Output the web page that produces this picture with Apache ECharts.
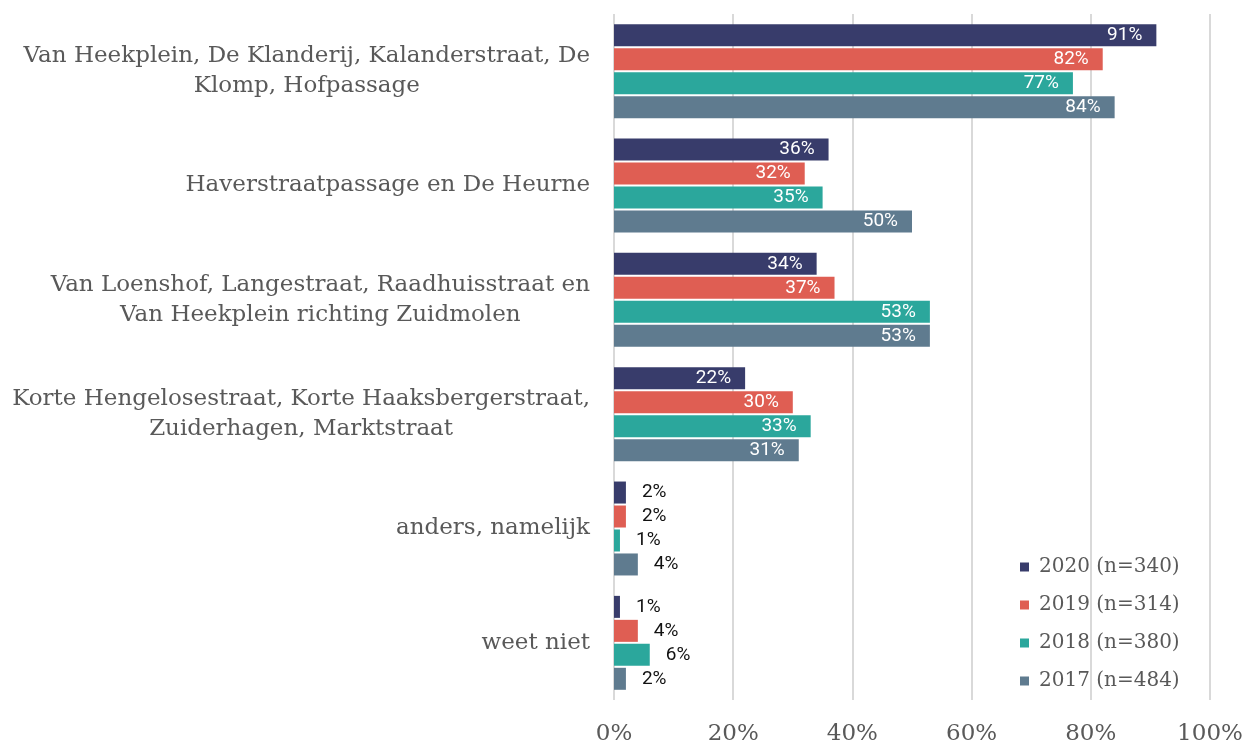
<!DOCTYPE html>
<html>
<head>
<meta charset="utf-8">
<title>Winkelgebieden</title>
<script src="https://cdn.jsdelivr.net/npm/echarts@6/dist/echarts.min.js"></script>
<style>
  html, body { margin: 0; padding: 0; background: #fff; }
  #chart { width: 1244px; height: 742px; }
</style>
</head>
<body>
<div id="chart"></div>
<script>
  // categorieën (van boven naar beneden)
  var categories = [
    'Van Heekplein, De Klanderij, Kalanderstraat, De\nKlomp, Hofpassage',
    'Haverstraatpassage en De Heurne',
    'Van Loenshof, Langestraat, Raadhuisstraat en\nVan Heekplein richting Zuidmolen',
    'Korte Hengelosestraat, Korte Haaksbergerstraat,\nZuiderhagen, Marktstraat',
    'anders, namelijk',
    'weet niet'
  ]
  var seriesNames = ['2020 (n=340)', '2019 (n=314)', '2018 (n=380)', '2017 (n=484)']
  var data2020 = [91, 36, 34, 22, 2, 1]
  var data2019 = [82, 32, 37, 30, 2, 4]
  var data2018 = [77, 35, 53, 33, 1, 6]
  var data2017 = [84, 50, 53, 31, 4, 2]
  var xTicks = [0, 20, 40, 60, 80, 100]

  var colors = ['#383c6b', '#df5e53', '#2ba79c', '#5f7b8f']
  var allData = [data2020, data2019, data2018, data2017]

  // kleine waarden krijgen het label rechts van de balk
  function withLabels(arr) {
    return arr.map(function (v) {
      if (v < 10) {
        return { value: v, label: { position: 'right', distance: 16, color: '#111111' } }
      }
      return { value: v }
    })
  }

  var chart = echarts.init(document.getElementById('chart'))

  var series = []
  for (var i = 0; i < seriesNames.length; i++) {
    series.push({
      name: seriesNames[i],
      type: 'bar',
      barWidth: 22,
      barGap: '9%',
      itemStyle: { color: colors[i] },
      label: {
        show: true,
        position: 'insideRight',
        distance: 14,
        color: '#ffffff',
        fontFamily: 'Roboto',
        fontSize: 19,
        formatter: '{c}%'
      },
      data: withLabels(allData[i])
    })
  }

  chart.setOption({
    animation: false,
    color: colors,
    grid: {
      left: 614,
      right: 34,
      top: 14,
      bottom: 42,
      containLabel: false,
      outerBoundsMode: 'none'
    },
    legend: {
      orient: 'vertical',
      left: 1020,
      top: 556,
      padding: 0,
      itemGap: 16,
      itemWidth: 9,
      itemHeight: 9,
      icon: 'rect',
      data: seriesNames,
      textStyle: {
        fontFamily: 'DejaVu Serif',
        fontSize: 20,
        lineHeight: 22,
        color: '#595959',
        padding: [0, 0, 0, 5]
      }
    },
    xAxis: {
      type: 'value',
      min: xTicks[0],
      max: xTicks[xTicks.length - 1],
      interval: 20,
      axisLine: { show: false },
      axisTick: { show: false },
      splitLine: { show: true, lineStyle: { color: '#d9d9d9', width: 2 } },
      axisLabel: {
        margin: 23,
        fontFamily: 'DejaVu Serif',
        fontSize: 23,
        color: '#595959',
        formatter: '{value}%'
      }
    },
    yAxis: {
      type: 'category',
      inverse: true,
      data: categories,
      axisLine: { show: false },
      axisTick: { show: false },
      axisLabel: {
        margin: 24,
        formatter: function (val) {
          return val.split('\n').map(function (l) { return '{c|' + l + '}' }).join('\n')
        },
        rich: {
          c: {
            align: 'center',
            fontFamily: 'DejaVu Serif',
            fontSize: 23,
            lineHeight: 30,
            color: '#595959'
          }
        }
      }
    },
    series: series
  })
</script>
</body>
</html>
